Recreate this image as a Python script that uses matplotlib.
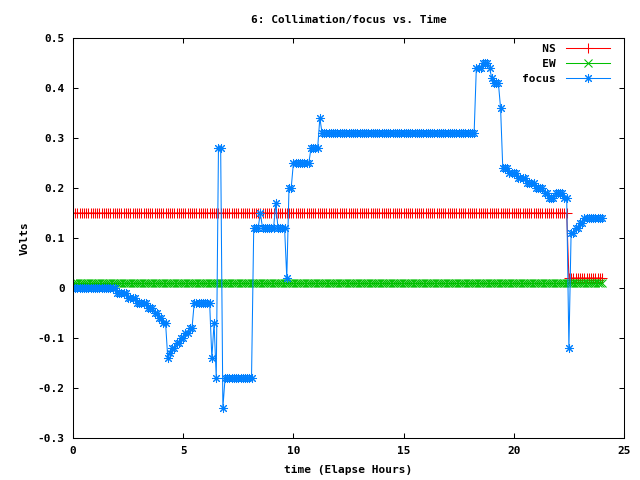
import numpy as np
import matplotlib
matplotlib.use("Agg")
import matplotlib.pyplot as plt

# sample times (hours), one every 0.1 h
time_hours = np.round(np.arange(0, 241) * 0.1, 1)

# NS: runs of (value, number of samples)
ns_runs = [(0.15, 225), (0.02, 16)]
# EW: constant
ew_runs = [(0.01, 241)]
# focus: runs of (value, number of samples)
focus_runs = [
    (0.00, 20), (-0.01, 5), (-0.02, 4), (-0.03, 5), (-0.04, 3), (-0.05, 2),
    (-0.06, 2), (-0.07, 2), (-0.14, 1), (-0.13, 1), (-0.12, 2), (-0.11, 2),
    (-0.10, 2), (-0.09, 2), (-0.08, 2), (-0.03, 8), (-0.14, 1), (-0.07, 1),
    (-0.18, 1), (0.28, 2), (-0.24, 1), (-0.18, 13), (0.12, 3), (0.15, 1),
    (0.12, 6), (0.17, 1), (0.12, 4), (0.02, 1), (0.20, 2), (0.25, 8),
    (0.28, 4), (0.34, 1), (0.31, 70), (0.44, 3), (0.45, 3), (0.44, 1),
    (0.42, 1), (0.41, 3), (0.36, 1), (0.24, 3), (0.23, 4), (0.22, 4),
    (0.21, 4), (0.20, 4), (0.19, 2), (0.18, 3), (0.19, 4), (0.18, 2),
    (-0.12, 1), (0.11, 2), (0.12, 2), (0.13, 2), (0.14, 10),
]

def expand(runs):
    out = []
    for v, n in runs:
        out.extend([v] * n)
    return np.array(out)

ns = expand(ns_runs)
ew = expand(ew_runs)
focus = expand(focus_runs)
n = min(len(time_hours), len(focus))

x_ticks = [0, 5, 10, 15, 20, 25]
y_ticks = [-0.3, -0.2, -0.1, 0, 0.1, 0.2, 0.3, 0.4, 0.5]
y_labels = ["-0.3", "-0.2", "-0.1", "0", "0.1", "0.2", "0.3", "0.4", "0.5"]

font = dict(family="DejaVu Sans Mono", weight="bold", size=8)

fig = plt.figure(figsize=(6.4, 4.8), dpi=100)
ax = fig.add_axes([73/640, 1-438/480, (624-73)/640, 400/480])

lw = 0.75
ms = 6.5
ax.plot(time_hours[:len(ns)], ns, color="#ff0000", lw=lw, marker="+",
        ms=ms, mew=lw, label="   NS")
ax.plot(time_hours[:len(ew)], ew, color="#00c000", lw=lw, marker="x",
        ms=ms*0.8, mew=lw, label="   EW")
ax.plot(time_hours[:n], focus[:n], color="#0080ff", lw=lw, marker=(8, 2, 0),
        ms=ms, mew=lw, label="focus")

ax.set_xlim(0, 25)
ax.set_ylim(-0.3, 0.5)
ax.set_xticks(x_ticks)
ax.set_xticklabels([str(v) for v in x_ticks], fontdict=font)
ax.set_yticks(y_ticks)
ax.set_yticklabels(y_labels, fontdict=font)
ax.tick_params(direction="in", length=3.6, width=0.75, top=True, right=True,
               pad=6)
for s in ax.spines.values():
    s.set_linewidth(0.75)

ax.set_title("6: Collimation/focus vs. Time", fontdict=font, pad=11)
ax.set_xlabel("time (Elapse Hours)", fontdict=font, labelpad=6)
ax.set_ylabel("Volts", fontdict=font, labelpad=6)

leg = ax.legend(loc="upper right", bbox_to_anchor=(0.985, 1.0),
                frameon=False, markerfirst=False,
                prop=dict(family="DejaVu Sans Mono", weight="bold", size=8),
                handlelength=4.0, labelspacing=0.45, borderaxespad=0.2,
                handletextpad=0.9, borderpad=0.3)

fig.savefig("out.png", dpi=100)
